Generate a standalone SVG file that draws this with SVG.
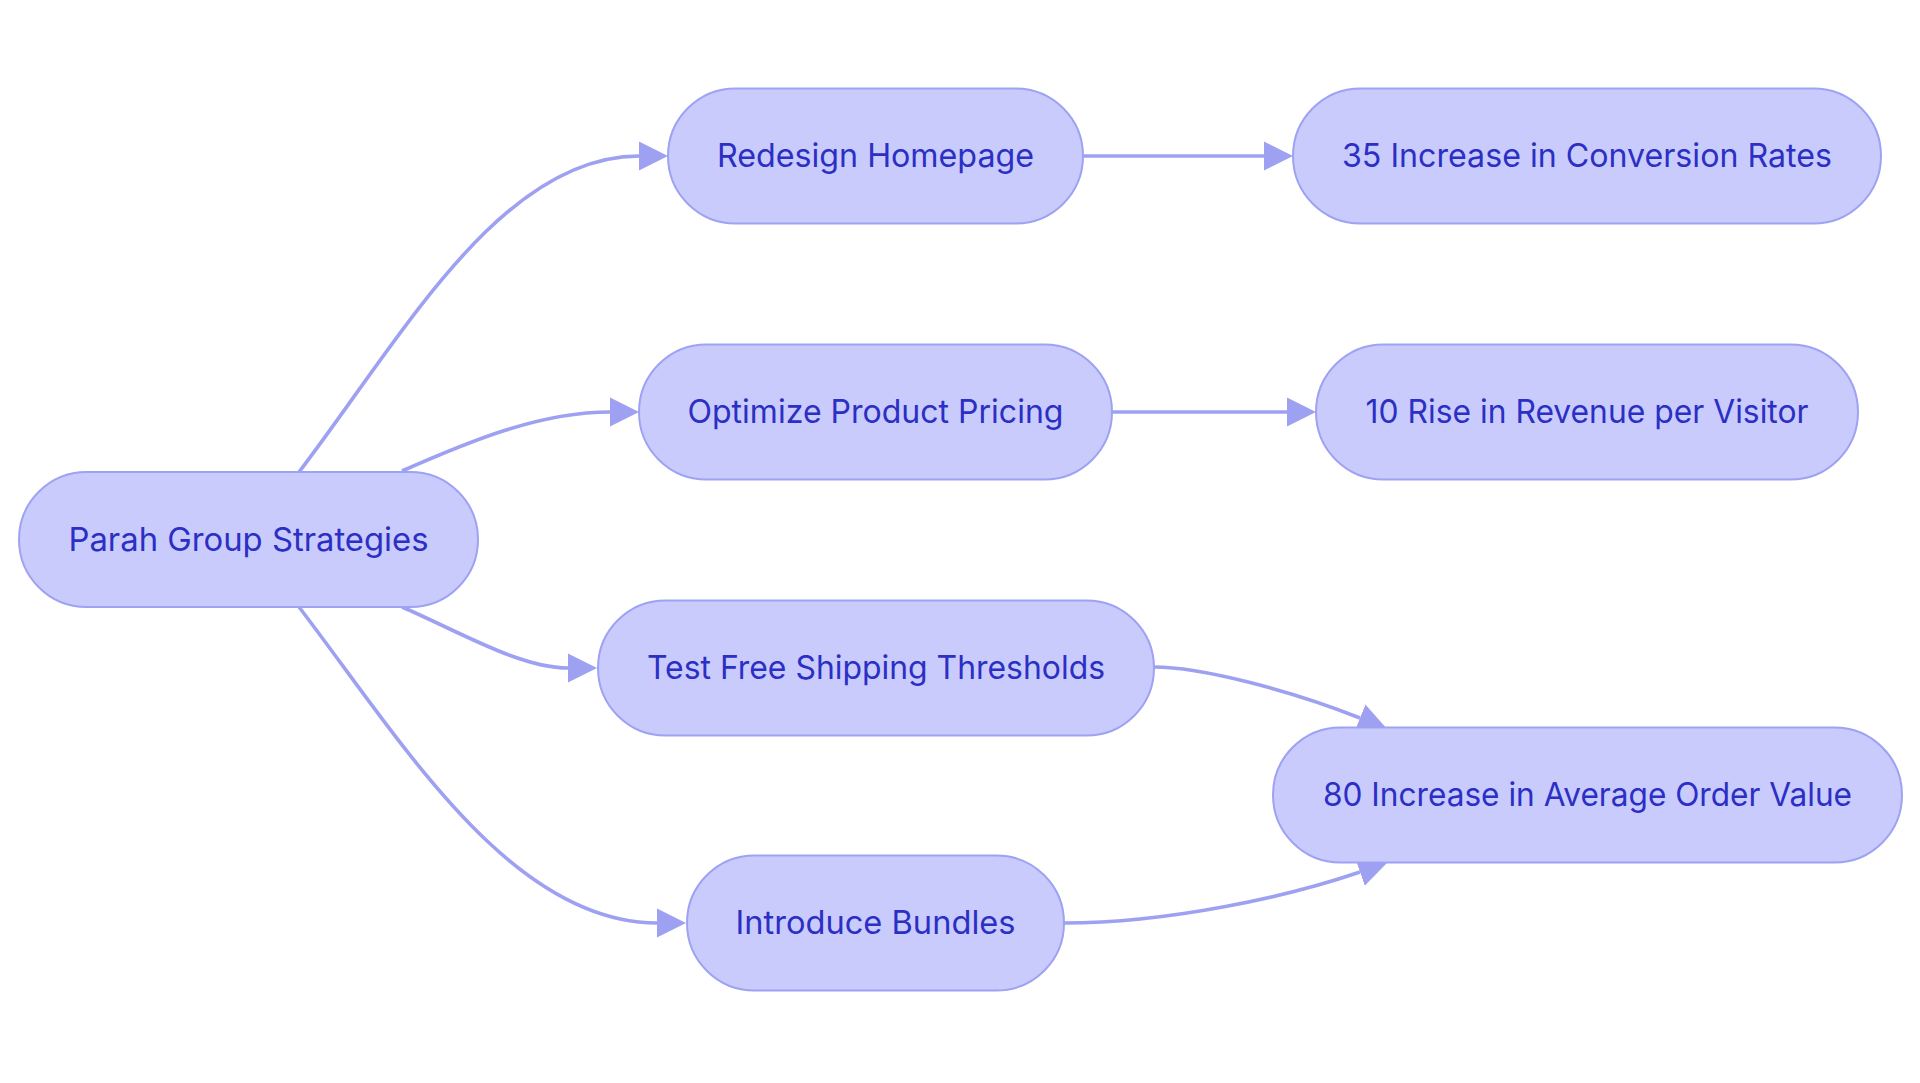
<svg xmlns="http://www.w3.org/2000/svg" width="1920" height="1083" viewBox="0 0 1920 1083">
<style>
.node rect{fill:#C9CBFC;stroke:#9EA2F2;stroke-width:2}
.node text{font-family:Inter,"Noto Sans","Liberation Sans",sans-serif;font-size:32.5px;fill:#2B2FC4;text-anchor:middle}
.edge{fill:none;stroke:#9EA1F1;stroke-width:3.6;marker-end:url(#arrow)}
</style>
<defs>
<marker id="arrow" markerUnits="userSpaceOnUse" markerWidth="30" markerHeight="30" viewBox="0 0 30 30" refX="0" refY="15" orient="auto">
<path d="M0,0.5 L29,15 L0,29.5 Z" fill="#9EA1F1"/>
</marker>
</defs>
<rect width="1920" height="1083" fill="#FFFFFF"/>
<g id="connectors">
<path class="edge" d="M299,472 C400,340 500,156 639,156"/>
<path class="edge" d="M402,471 C470,441 540,412 610,412"/>
<path class="edge" d="M402,607 C460,632 520,668 568,668"/>
<path class="edge" d="M299,607 C400,739 510,923 657,923"/>
<path class="edge" d="M1083,156 L1264,156"/>
<path class="edge" d="M1112,412 L1287,412"/>
<path class="edge" d="M1154,667 C1200,667 1290,690 1360,718"/>
<path class="edge" d="M1064,923 C1170,923 1290,896 1360,872"/>
</g>
<g id="parah" class="node"><rect x="19" y="472" width="459" height="135" rx="67.5"/><text x="248.5" y="550.5" textLength="360" lengthAdjust="spacingAndGlyphs">Parah Group Strategies</text></g>
<g id="redesign" class="node"><rect x="668" y="88.5" width="415" height="135" rx="67.5"/><text x="875.5" y="167" textLength="317" lengthAdjust="spacingAndGlyphs">Redesign Homepage</text></g>
<g id="conversion" class="node"><rect x="1293" y="88.5" width="588" height="135" rx="67.5"/><text x="1587" y="167" textLength="490" lengthAdjust="spacingAndGlyphs">35 Increase in Conversion Rates</text></g>
<g id="optimize" class="node"><rect x="639" y="344.5" width="473" height="135" rx="67.5"/><text x="875.5" y="423" textLength="376" lengthAdjust="spacingAndGlyphs">Optimize Product Pricing</text></g>
<g id="revenue" class="node"><rect x="1316" y="344.5" width="542" height="135" rx="67.5"/><text x="1587" y="423" textLength="443" lengthAdjust="spacingAndGlyphs">10 Rise in Revenue per Visitor</text></g>
<g id="shipping" class="node"><rect x="598" y="600.5" width="556" height="135" rx="67.5"/><text x="876" y="679" textLength="458" lengthAdjust="spacingAndGlyphs">Test Free Shipping Thresholds</text></g>
<g id="aov" class="node"><rect x="1273" y="727.5" width="629" height="135" rx="67.5"/><text x="1587.5" y="806" textLength="529" lengthAdjust="spacingAndGlyphs">80 Increase in Average Order Value</text></g>
<g id="bundles" class="node"><rect x="687" y="855.5" width="377" height="135" rx="67.5"/><text x="875.5" y="934" textLength="280" lengthAdjust="spacingAndGlyphs">Introduce Bundles</text></g>
</svg>
